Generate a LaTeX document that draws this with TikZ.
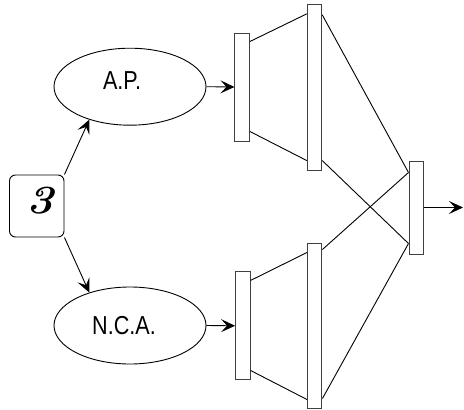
\documentclass[tikz,border=0pt]{standalone}
\usepackage{fontspec}
\newfontfamily\lblfont[FakeStretch=0.83]{Liberation Sans}
\usetikzlibrary{shapes.geometric,arrows.meta,calc}
\begin{document}
\begin{tikzpicture}[x=1pt,y=-1pt,
  every node/.style={inner sep=0pt},
  line/.style={line width=0.9pt},
  arr/.style={line width=0.9pt,-{Stealth[length=14pt,width=13pt,inset=6pt]}},
  bar/.style={draw=black!75,line width=1pt,fill=white,rectangle,minimum width=14.5pt},
  oval/.style={draw,line width=0.9pt,ellipse,minimum width=152pt,minimum height=77pt},
  lbl/.style={font=\lblfont\fontsize{26}{26}\selectfont},
  numbox/.style={draw,line width=0.9pt,rounded corners=6pt,minimum width=54.5pt,minimum height=62pt}]
\useasboundingbox (0,0) rectangle (464,410);
% left box
\node[numbox] (box) at (36.75,206) {};
\node[font=\fontsize{40}{40}\selectfont\bfseries\itshape,xscale=1.15,transform shape] (three) at (40,200.5) {3};
% ellipses
\node[oval] (ap) at (130,86.7) {};
\node[lbl] (aptxt) at (122,80.5) {A.P.};
\node[oval] (nca) at (130,325.5) {};
\node[lbl] (ncatxt) at (124,325.5) {N.C.A.};
% bars
\node[bar,minimum height=108pt] (r1a) at (242.2,87) {};
\node[bar,minimum height=165.7pt] (r2a) at (314.5,87.2) {};
\node[bar,minimum height=108.3pt] (r1b) at (242.8,325.8) {};
\node[bar,minimum height=165pt] (r2b) at (314.7,325.5) {};
\node[bar,minimum height=93pt,minimum width=14pt] (r3) at (416,207.5) {};
\coordinate (out) at (463,207.5);
% arrows
\draw[arr] (box.north east) -- (ap.219);
\draw[arr] (box.south east) -- (nca.141);
\draw[arr] (ap.east) -- (r1a.west);
\draw[arr] (nca.east) -- (r1b.west);
\draw[arr] (r3.east) -- (out);
% trapezoid lines
\draw[line] ([yshift=-9pt]r1a.north east) -- ([yshift=-10pt]r2a.north west);
\draw[line] ([yshift=10pt]r1a.south east) -- ([yshift=10pt]r2a.south west);
\draw[line] ([yshift=-9.3pt]r1b.north east) -- ([yshift=-10pt]r2b.north west);
\draw[line] ([yshift=10pt]r1b.south east) -- ([yshift=9pt]r2b.south west);
% to output bar
\draw[line] ([yshift=-11pt]r2a.north east) -- ([yshift=-12pt]r3.north west);
\draw[line] ([yshift=10pt]r2a.south east) -- ([yshift=11pt]r3.south west);
\draw[line] ([yshift=-7pt]r2b.north east) -- ([yshift=-12pt]r3.north west);
\draw[line] ([yshift=10pt]r2b.south east) -- ([yshift=11pt]r3.south west);
\end{tikzpicture}
\end{document}
